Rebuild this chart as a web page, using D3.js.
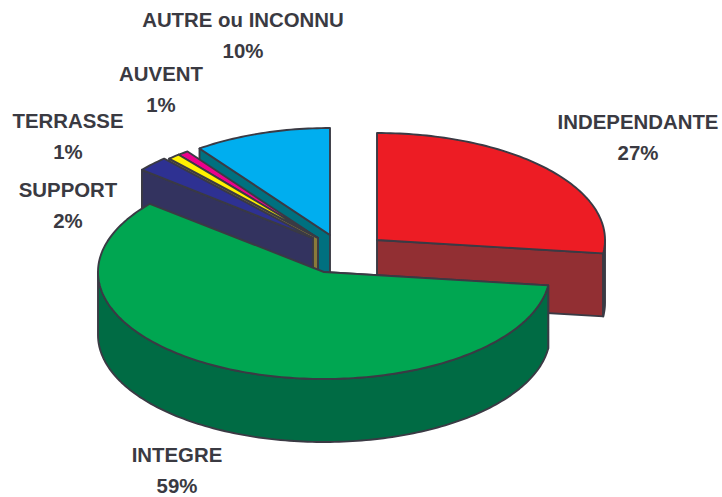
<!DOCTYPE html>
<html><head><meta charset="utf-8">
<script src="https://cdnjs.cloudflare.com/ajax/libs/d3/7.8.5/d3.min.js"></script>
<style>html,body{margin:0;padding:0;background:#fff}svg{display:block}</style></head>
<body><svg id="c" width="722" height="497"></svg>
<script>
const categories=["INDEPENDANTE","INTEGRE","SUPPORT","TERRASSE","AUVENT","AUTRE ou INCONNU"];
const values=[27,59,2.3,0.9,0.8,10];
const labels=["27%","59%","2%","1%","1%","10%"];
const topColors=["#ed1c24","#00a651","#2e3192","#fff200","#ec008c","#00aeef"];
const wallColors=["#922f33","#006b44","#33335f","#8a7a3a","#3a2d4a","#00707f"];
const centers=[[377,240],[324,272],[313,238],[318,238],[318,238],[330,235]];
const radiiX=[228,226,222,222,222,222];
const labelPos=[[638,129],[177,462],[68,197],[68,128],[161,81],[243,27]];
const drawOrder=[5,4,3,2,0,1];
const RY=107,DEPTH=63,STROKE="#3a3a44",SW=1.9;
const arcs=d3.pie().sort(null).value(d=>d).startAngle(0).endAngle(2*Math.PI)(values);
const svg=d3.select("#c");
const line=d3.line();
const P=Math.PI;
function pt(i,a,dz=0){const c=centers[i];return [c[0]+radiiX[i]*Math.sin(a),c[1]-RY*Math.cos(a)+dz];}
function arcPts(i,a0,a1,dz=0){const n=Math.max(2,Math.ceil(Math.abs(a1-a0)/0.02));return d3.range(n+1).map(k=>pt(i,a0+(a1-a0)*k/n,dz));}
drawOrder.forEach(i=>{
  const d=arcs[i],c=centers[i],g=svg.append("g");
  const a0=d.startAngle,a1=d.endAngle;
  const faceAngle=a1<P?a1:a0;
  const fp=pt(i,faceAngle);
  g.append("path").attr("d",line([c,fp,[fp[0],fp[1]+DEPTH],[c[0],c[1]+DEPTH]])+"Z")
    .attr("fill",wallColors[i]).attr("stroke",STROKE).attr("stroke-width",SW).attr("stroke-linejoin","round");
  const r0=Math.max(a0,P/2),r1=Math.min(a1,3*P/2);
  if(r1>r0){
    const upper=arcPts(i,r0,r1),lower=arcPts(i,r1,r0,DEPTH);
    g.append("path").attr("d",line(upper.concat(lower))+"Z").attr("fill",wallColors[i]).attr("stroke",STROKE).attr("stroke-width",SW).attr("stroke-linejoin","round");
  }
  g.append("path").attr("d",line([c].concat(arcPts(i,a0,a1)))+"Z")
    .attr("fill",topColors[i]).attr("stroke",STROKE).attr("stroke-width",SW).attr("stroke-linejoin","round");
});
categories.forEach((cat,i)=>{
  const t=svg.append("text").attr("x",labelPos[i][0]).attr("y",labelPos[i][1]).attr("text-anchor","middle")
    .attr("font-family","'Liberation Sans',Arial,sans-serif").attr("font-weight","700").attr("font-size",20.4).attr("fill","#3a3a42");
  t.append("tspan").attr("x",labelPos[i][0]).text(cat);
  t.append("tspan").attr("x",labelPos[i][0]).attr("dy",30.5).text(labels[i]);
});
</script></body></html>
